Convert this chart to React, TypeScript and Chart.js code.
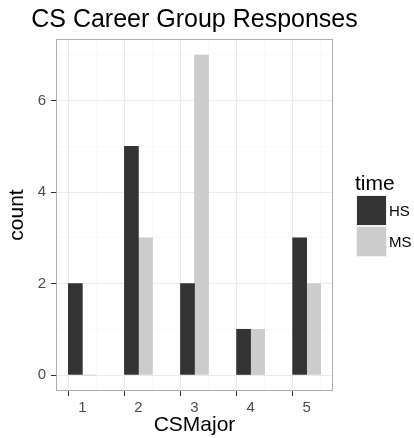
import React, { useEffect, useRef } from "react";
import { Chart, registerables } from "chart.js";

Chart.register(...registerables);

const categories = [1, 2, 3, 4, 5];
const hsCounts = [2, 5, 2, 1, 3];
const msCounts = [0, 3, 7, 1, 2];
const seriesNames = ["HS", "MS"];
const seriesColors = ["#333333", "#CCCCCC"];
const yTickLabels = [0, 2, 4, 6];
const yMinorTicks = [1, 3, 5, 7];
const xMinorTicks = [1.5, 2.5, 3.5, 4.5];
const chartTitle = "CS Career Group Responses";
const xTitle = "CSMajor";
const yTitle = "count";
const legendTitle = "time";

const FONT = "'Liberation Sans', Arial, Helvetica, sans-serif";

export default function App() {
  const canvasRef = useRef<HTMLCanvasElement | null>(null);

  useEffect(() => {
    document.body.style.margin = "0";
    const canvas = canvasRef.current;
    if (!canvas) return;

    const decorPlugin = {
      id: "decor",
      afterDraw(chart: any) {
        const { ctx, chartArea } = chart;
        ctx.save();
        // panel border
        ctx.strokeStyle = "#ADADAD";
        ctx.lineWidth = 1;
        ctx.strokeRect(
          Math.round(chartArea.left) + 0.5,
          Math.round(chartArea.top) + 0.5,
          Math.round(chartArea.right - chartArea.left) - 1,
          Math.round(chartArea.bottom - chartArea.top) - 1
        );
        // title
        ctx.fillStyle = "#000000";
        ctx.font = `25px ${FONT}`;
        ctx.textAlign = "center";
        ctx.textBaseline = "alphabetic";
        ctx.fillText(chartTitle, (chartArea.left + chartArea.right) / 2, 27);
        // legend
        ctx.textAlign = "left";
        ctx.font = `21px ${FONT}`;
        ctx.fillText(legendTitle, 355, 190);
        const keyX = 356;
        const keyY = 195;
        const keySize = 31;
        chart.data.datasets.forEach((ds: any, i: number) => {
          const y = keyY + i * keySize;
          ctx.fillStyle = "#F2F2F2";
          ctx.fillRect(keyX, y, keySize, keySize);
          ctx.fillStyle = ds.backgroundColor;
          ctx.fillRect(keyX + 1, y + 1, keySize - 2, keySize - 2);
          ctx.fillStyle = "#000000";
          ctx.font = `15px ${FONT}`;
          ctx.textBaseline = "middle";
          ctx.fillText(ds.label, keyX + keySize + 2, y + keySize / 2 + 1);
        });
        ctx.restore();
      },
    };

    const chart = new Chart(canvas, {
      type: "bar",
      data: {
        datasets: [
          {
            label: seriesNames[0],
            data: categories.map((c, i) => ({ x: c, y: hsCounts[i] })),
            backgroundColor: seriesColors[0],
            barPercentage: 1,
            categoryPercentage: 1,
          },
          {
            label: seriesNames[1],
            data: categories.map((c, i) => ({ x: c, y: msCounts[i] })),
            backgroundColor: seriesColors[1],
            barPercentage: 1,
            categoryPercentage: 1,
          },
        ],
      },
      options: {
        animation: false,
        responsive: false,
        maintainAspectRatio: false,
        layout: { padding: { left: 0, top: 39, right: 81, bottom: 0 } },
        plugins: {
          legend: { display: false },
          title: { display: false },
          tooltip: { enabled: false },
        },
        scales: {
          x: {
            type: "linear",
            min: 0.53,
            max: 5.47,
            offset: false,
            afterFit: (scale: any) => {
              scale.height = 47;
            },
            afterBuildTicks: (scale: any) => {
              const vals = [...categories, ...xMinorTicks].sort((a, b) => a - b);
              scale.ticks = vals.map((v) => ({ value: v }));
            },
            border: { display: false },
            grid: {
              color: (ctx: any) =>
                ctx.tick && categories.includes(ctx.tick.value) ? "#EBEBEB" : "#F5F5F5",
              lineWidth: (ctx: any) =>
                ctx.tick && categories.includes(ctx.tick.value) ? 1 : 0.6,
              tickColor: (ctx: any) =>
                ctx.tick && categories.includes(ctx.tick.value) ? "#333333" : "rgba(0,0,0,0)",
              tickWidth: 1,
              tickLength: 5,
            },
            ticks: {
              autoSkip: false,
              maxRotation: 0,
              padding: 3,
              color: "#4D4D4D",
              font: { family: FONT, size: 15 },
              callback: (v: any) => (categories.includes(Number(v)) ? String(v) : ""),
            },
            title: {
              display: true,
              text: xTitle,
              color: "#000000",
              font: { family: FONT, size: 21 },
              padding: { top: 0, bottom: 0 },
            },
          },
          y: {
            type: "linear",
            min: -0.35,
            max: 7.35,
            afterFit: (scale: any) => {
              scale.width = 56;
            },
            afterBuildTicks: (scale: any) => {
              const vals = [...yTickLabels, ...yMinorTicks].sort((a, b) => a - b);
              scale.ticks = vals.map((v) => ({ value: v }));
            },
            border: { display: false },
            grid: {
              color: (ctx: any) =>
                ctx.tick && yTickLabels.includes(ctx.tick.value) ? "#EBEBEB" : "#F5F5F5",
              lineWidth: (ctx: any) =>
                ctx.tick && yTickLabels.includes(ctx.tick.value) ? 1 : 0.6,
              tickColor: (ctx: any) =>
                ctx.tick && yTickLabels.includes(ctx.tick.value) ? "#333333" : "rgba(0,0,0,0)",
              tickWidth: 1,
              tickLength: 5,
            },
            ticks: {
              autoSkip: false,
              padding: 5,
              color: "#4D4D4D",
              font: { family: FONT, size: 15 },
              callback: (v: any) => (yTickLabels.includes(Number(v)) ? String(v) : ""),
            },
            title: {
              display: true,
              text: yTitle,
              color: "#000000",
              font: { family: FONT, size: 21 },
              padding: { top: 5, bottom: 0 },
            },
          },
        },
      },
      plugins: [decorPlugin],
    } as any);

    return () => {
      chart.destroy();
    };
  }, []);

  return (
    <div style={{ position: "relative", width: 414, height: 438, background: "#FFFFFF" }}>
      <canvas ref={canvasRef} width={414} height={438} style={{ display: "block" }} />
    </div>
  );
}
